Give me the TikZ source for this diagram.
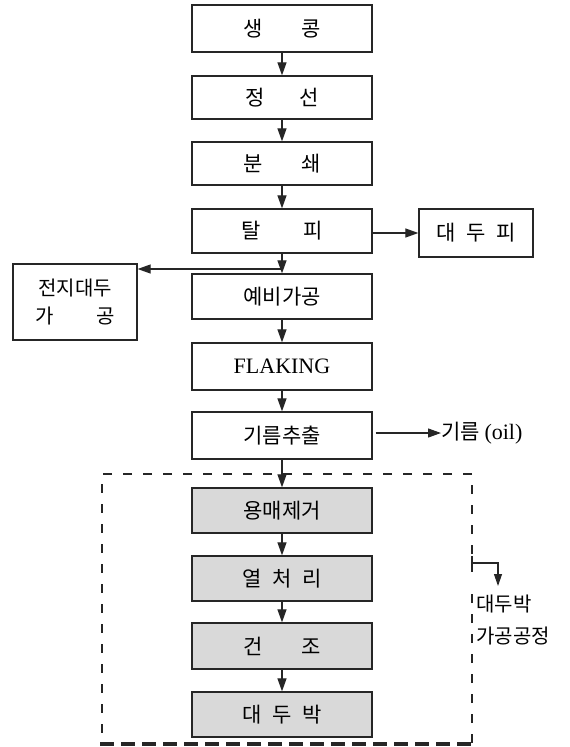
\documentclass[tikz,border=0pt]{standalone}
\usepackage{fontspec}
\setmainfont{Liberation Serif}
\newfontfamily\kr{Noto Sans CJK KR}
\usetikzlibrary{arrows.meta}
\begin{document}
\begin{tikzpicture}[x=1pt,y=-1pt,
  box/.style={draw=black!85, line width=1.3pt, minimum width=180pt, minimum height=45pt, inner sep=0pt, font=\kr\fontsize{21}{23}\selectfont},
  gbox/.style={box, fill=black!15},
  arr/.style={line width=1.2pt, draw=black!85, -{Triangle[length=13pt,width=9pt]}},
  dsh/.style={line width=1.2pt, draw=black!85, dash pattern=on 9pt off 11pt},
  lbl/.style={inner sep=0pt, font=\kr\fontsize{21}{23}\selectfont}]
\useasboundingbox (0,0) rectangle (570,747);
% main column
\node[box, minimum height=47pt] (n1) at (282,28.5) {생\hspace{1.85em}콩};
\node[box, minimum height=43pt] (n2) at (282,97.5) {정\hspace{1.65em}선};
\node[box, minimum height=43pt] (n3) at (282,163.5) {분\hspace{1.85em}쇄};
\node[box, minimum height=44pt] (n4) at (282,231) {탈\hspace{2.05em}피};
\node[box] (n5) at (282,296.5) {예비가공};
\node[box, minimum height=47pt, font=\fontsize{22}{24}\selectfont] (n6) at (282,366.5) {FLAKING};
\node[box, minimum height=47pt] (n7) at (282,435.5) {기름추출};
\node[gbox] (n8) at (282,510.5) {용매제거};
\node[gbox] (n9) at (282,578.5) {열\hspace{0.5em}처\hspace{0.5em}리};
\node[gbox, minimum height=46pt] (n10) at (282,646) {건\hspace{1.85em}조};
\node[gbox] (n11) at (282,714.5) {대\hspace{0.5em}두\hspace{0.5em}박};
% side boxes
\node[box, minimum width=114pt, minimum height=48pt] (dp) at (476,233) {대\hspace{0.5em}두\hspace{0.5em}피};
\node[box, minimum width=124pt, minimum height=76pt, align=center, font=\kr\fontsize{20}{28}\selectfont] (jj) at (75,302) {전지대두\\\makebox[4em][s]{가\hfill 공}};
% arrows
\draw[arr] (n1) -- (n2);
\draw[arr] (n2) -- (n3);
\draw[arr] (n3) -- (n4);
\draw[arr] (n4) -- (n5);
\draw[arr] (n5) -- (n6);
\draw[arr] (n6) -- (n7);
\draw[arr] (n7) -- (n8);
\draw[arr] (n8) -- (n9);
\draw[arr] (n9) -- (n10);
\draw[arr] (n10) -- (n11);
\draw[arr] (n4.east |- dp.west) -- (dp.west);
\coordinate (j) at (282,269);
\draw[arr] (j) -- (jj.east |- j);
% oil
\node[lbl, anchor=west] (oil) at (441,433) {기름 {\rmfamily\fontsize{22}{24}\selectfont (oil)}};
\draw[arr, shorten <=3pt] (n7.east |- oil.west) -- (oil.west);
% dashed enclosure
\draw[dsh] (472,554) -- (472,474) -- (102,474) -- (102,743);
\draw[dsh] (472,743) -- (472,590);
\draw[line width=1.2pt, draw=black!85] (472,556) -- (472,572);
\coordinate (t1) at (472,563);
\coordinate (t2) at (498,563);
\coordinate (t3) at (498,586);
\draw[line width=1.2pt, draw=black!85, -{Triangle[length=12pt,width=8pt]}] (t1) -- (t2) -- (t3);
\draw[line width=3.5pt, draw=black!85, dash pattern=on 14pt off 7pt] (100,744) -- (474,744);
\node[lbl, anchor=west, align=left, font=\kr\fontsize{20}{32}\selectfont] (bl) at (476,620) {대두박\\가공공정};
\end{tikzpicture}
\end{document}
